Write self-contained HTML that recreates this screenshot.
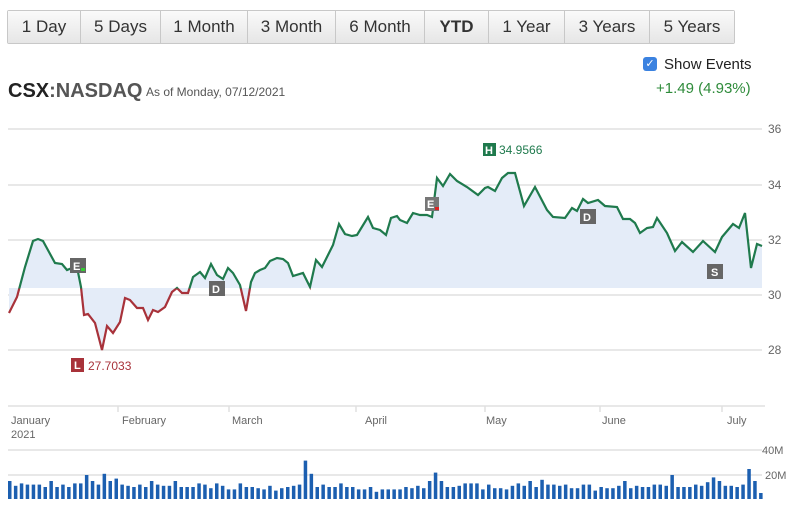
<!DOCTYPE html>
<html><head><style>
body{margin:0;width:800px;height:510px;background:#fff;font-family:"Liberation Sans",sans-serif;overflow:hidden;position:relative}
.btns{position:absolute;left:7px;top:10px;display:flex;border:1px solid #c8c8c8;border-radius:2px}
.btns div{height:32px;line-height:32px;font-size:17px;color:#333;background:linear-gradient(#fafafa,#e6e6e6);border-right:1px solid #c8c8c8;text-align:center}
.btns div:last-child{border-right:none}
</style></head><body>
<div class="btns">
<div style="width:72px">1 Day</div><div style="width:79px">5 Days</div><div style="width:86px">1 Month</div><div style="width:87px">3 Month</div><div style="width:88px">6 Month</div><div style="width:63px;font-weight:bold">YTD</div><div style="width:75px">1 Year</div><div style="width:84px">3 Years</div><div style="width:84px">5 Years</div>
</div>
<div style="position:absolute;left:643px;top:57px;width:14px;height:14px;background:#3b82e0;border-radius:3px;color:#fff;font-size:11px;text-align:center;line-height:14px">✓</div>
<div style="position:absolute;left:664px;top:56px;font-size:15px;color:#222">Show Events</div>
<div style="position:absolute;left:656px;top:80px;font-size:15px;color:#2e8b3a">+1.49 (4.93%)</div>
<div style="position:absolute;left:8px;top:80px;font-size:20px;font-weight:bold;color:#222">CSX<span style="color:#555">:NASDAQ</span></div>
<div style="position:absolute;left:146px;top:85px;font-size:12px;color:#555">As of Monday, 07/12/2021</div>
<svg id="s" width="800" height="510" style="position:absolute;left:0;top:0" font-family="Liberation Sans,sans-serif">
<defs>
<clipPath id="up"><rect x="0" y="0" width="800" height="288.5"/></clipPath>
<clipPath id="dn"><rect x="0" y="288.5" width="800" height="200"/></clipPath>
</defs>
<g stroke="#e0e0e0" stroke-width="1.5">
<line x1="8" x2="762" y1="129" y2="129"/><line x1="8" x2="762" y1="185" y2="185"/><line x1="8" x2="762" y1="240" y2="240"/><line x1="8" x2="762" y1="295" y2="295"/><line x1="8" x2="762" y1="350" y2="350"/>
<line x1="8" x2="762" y1="450" y2="450"/><line x1="8" x2="762" y1="475" y2="475"/>
<line x1="8" x2="765" y1="406" y2="406"/>
<line x1="118" x2="118" y1="406" y2="412"/><line x1="229" x2="229" y1="406" y2="412"/><line x1="356" x2="356" y1="406" y2="412"/><line x1="485" x2="485" y1="406" y2="412"/><line x1="600" x2="600" y1="406" y2="412"/><line x1="722" x2="722" y1="406" y2="412"/>
</g>
<g font-size="12" fill="#666">
<text x="768" y="133">36</text><text x="768" y="189">34</text><text x="768" y="244">32</text><text x="768" y="299">30</text><text x="768" y="354">28</text>
<text x="762" y="454" font-size="11">40M</text><text x="765" y="479" font-size="11">20M</text>
<text x="11" y="424" font-size="11">January</text><text x="11" y="438" font-size="11">2021</text>
<text x="122" y="424" font-size="11">February</text><text x="232" y="424" font-size="11">March</text><text x="365" y="424" font-size="11">April</text><text x="486" y="424" font-size="11">May</text><text x="602" y="424" font-size="11">June</text><text x="727" y="424" font-size="11">July</text>
</g>
<polygon id="area" fill="#e4ecf8"/>
<polyline id="l1" fill="none" stroke="#1f7a4d" stroke-width="2.2" clip-path="url(#up)"/>
<polyline id="l2" fill="none" stroke="#a8323a" stroke-width="2.2" clip-path="url(#dn)"/>
<g id="vol" fill="#1c5fb0"></g>
<g font-size="11" font-weight="bold" fill="#fff">
<rect x="70" y="258" width="16" height="15" fill="#666"/><text x="73" y="270">E</text><rect x="81" y="268" width="4" height="3" fill="#3c3"/>
<rect x="209" y="281" width="16" height="15" fill="#666"/><text x="212" y="293">D</text>
<rect x="425" y="197" width="14" height="14" fill="#777"/><text x="427" y="208">E</text><rect x="435" y="207" width="4" height="3" fill="#d22"/>
<rect x="580" y="209" width="16" height="15" fill="#666"/><text x="583" y="221">D</text>
<rect x="707" y="264" width="16" height="15" fill="#666"/><text x="711" y="276">S</text>
<rect x="483" y="143" width="13" height="13" fill="#1f7a4d"/><text x="485" y="154">H</text>
<rect x="71" y="358" width="13" height="14" fill="#a8323a"/><text x="74" y="369">L</text>
</g>
<text x="499" y="154" font-size="12" fill="#1f7a4d">34.9566</text>
<text x="88" y="370" font-size="12" fill="#a8323a">27.7033</text>
</svg>
<script>
var p=[[9,313],[17,297],[25,267],[33,241],[38,239],[43,241],[49,252],[55,263],[62,264],[67,270],[72,268],[78,272],[81,287],[84,315],[88,314],[95,323],[102,350],[107,326],[113,333],[120,322],[125,298],[130,300],[137,308],[143,308],[148,320],[153,310],[158,312],[165,307],[172,292],[177,288],[182,293],[188,293],[193,277],[200,272],[205,278],[211,264],[217,275],[223,279],[228,268],[233,273],[240,285],[246,311],[251,282],[255,273],[260,270],[265,268],[270,261],[277,258],[283,259],[288,263],[293,276],[303,273],[310,287],[316,260],[322,267],[333,245],[339,224],[345,234],[352,236],[357,235],[368,217],[373,228],[380,230],[386,235],[391,218],[397,216],[400,220],[407,223],[413,213],[420,215],[427,215],[432,217],[437,178],[443,186],[450,174],[457,181],[467,187],[478,195],[485,188],[488,187],[495,191],[502,178],[508,173],[515,173],[524,206],[535,187],[547,210],[553,217],[565,218],[572,208],[577,211],[583,199],[588,203],[598,200],[605,206],[617,207],[623,219],[630,219],[635,223],[640,233],[647,228],[653,227],[657,218],[667,233],[675,251],[682,242],[693,252],[703,241],[715,252],[722,237],[733,224],[739,228],[745,213],[751,268],[757,244],[762,246]];
var s=p.map(function(a){return a.join(',')}).join(' ');
document.getElementById('l1').setAttribute('points',s);
document.getElementById('l2').setAttribute('points',s);
document.getElementById('area').setAttribute('points','9,288 '+s+' 762,288');
var v=[15,11,13,12,12,12,10,15,10,12,10,13,13,20,15,12,21,15,17,12,11,10,12,10,15,12,11,11,15,10,10,10,13,12,9,13,11,8,8,13,10,10,9,8,11,7,9,10,11,12,32,21,10,12,10,10,13,10,10,8,8,10,6,8,8,8,8,10,9,11,9,15,22,15,10,10,11,13,13,13,8,12,9,9,8,11,13,11,15,10,16,12,12,11,12,9,9,12,12,7,10,9,9,11,15,9,11,10,10,12,12,11,20,10,10,10,12,11,14,18,15,11,11,10,12,25,15,5];
var g=document.getElementById('vol'),n=v.length,w=(765-8)/n,h='';
for(var i=0;i<n;i++){var hh=v[i]*1.2;h+='<rect x="'+(8+i*w).toFixed(1)+'" y="'+(499-hh).toFixed(1)+'" width="'+(w*0.6).toFixed(1)+'" height="'+hh.toFixed(1)+'"/>';}
g.innerHTML=h;
</script>
</body></html>
